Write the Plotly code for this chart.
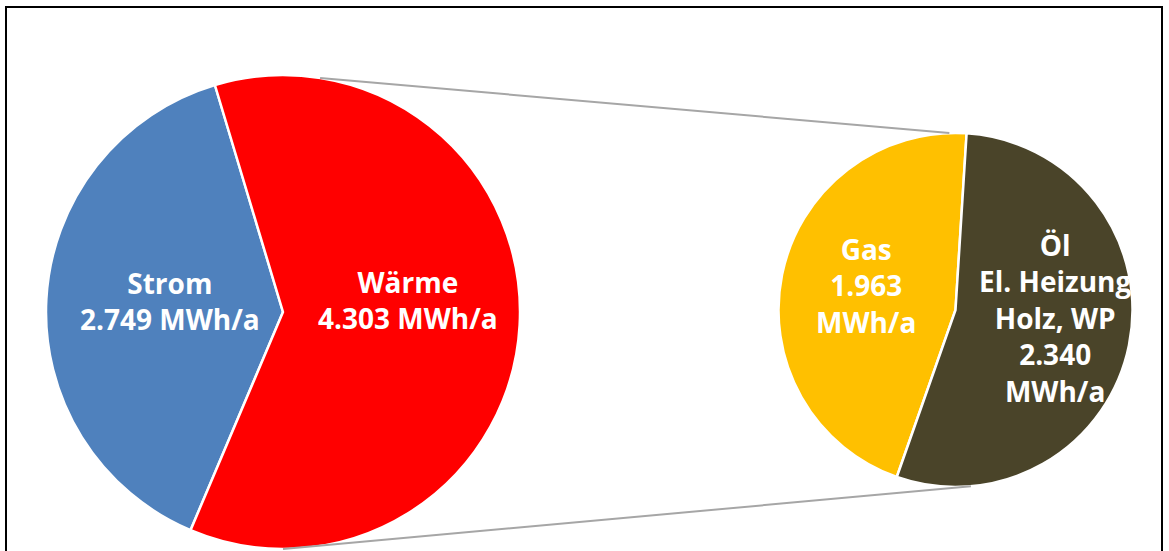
import math
import plotly.graph_objects as go

# Energy demand (MWh/a)
main_labels = ["Strom", "Wärme"]
main_values = [2749, 4303]
main_colors = ["#4F81BD", "#FF0000"]

split_labels = ["Gas", "Öl<br>El. Heizung<br>Holz, WP"]
split_values = [1963, 2340]
split_colors = ["#FFC000", "#4A4429"]

W, H = 1169, 551


def px(x):
    return x / W


def py(y):
    return 1 - y / H


# pie geometry in pixels: centre and radius
L_CX, L_CY, L_R = 283, 312, 237
R_CX, R_CY, R_R = 955.5, 310, 177


def start_angle(values, end_deg):
    # counterclockwise pies: first slice spans [rotation, rotation + share]
    share = 360 * values[0] / sum(values)
    return end_deg - share


fig = go.Figure()

fig.add_trace(go.Pie(
    labels=main_labels, values=main_values, sort=False,
    direction="counterclockwise", rotation=start_angle(main_values, -16.7),
    marker=dict(colors=main_colors, line=dict(color="white", width=2.5)),
    textinfo="none", hoverinfo="label+value", showlegend=False,
    domain=dict(x=[px(L_CX - L_R), px(L_CX + L_R)],
                y=[py(L_CY + L_R), py(L_CY - L_R)]),
))

fig.add_trace(go.Pie(
    labels=split_labels, values=split_values, sort=False,
    direction="counterclockwise", rotation=start_angle(split_values, 3.6),
    marker=dict(colors=split_colors, line=dict(color="white", width=2.5)),
    textinfo="none", hoverinfo="label+value", showlegend=False,
    domain=dict(x=[px(R_CX - R_R), px(R_CX + R_R)],
                y=[py(R_CY + R_R), py(R_CY - R_R)]),
))


def fmt(v):
    # German thousands separator
    return f"{v:,}".replace(",", ".")


def on_circle(cx, cy, r, deg):
    # angle measured clockwise from 12 o'clock
    a = math.radians(deg)
    return cx + r * math.sin(a), cy - r * math.cos(a)


# connector lines between the Wärme slice and the split pie
x0, y0 = on_circle(L_CX, L_CY, L_R, 9)
x1, y1 = on_circle(R_CX, R_CY, R_R, -2)
x2, y2 = on_circle(L_CX, L_CY, L_R, 180)
x3, y3 = on_circle(R_CX, R_CY, R_R, 175)
shapes = [
    dict(type="line", xref="paper", yref="paper",
         x0=px(x0), y0=py(y0), x1=px(x1), y1=py(y1),
         line=dict(color="#A6A6A6", width=2)),
    dict(type="line", xref="paper", yref="paper",
         x0=px(x2), y0=py(y2), x1=px(x3), y1=py(y3),
         line=dict(color="#A6A6A6", width=2)),
    # chart frame
    dict(type="rect", xref="paper", yref="paper",
         x0=px(6), y0=py(556), x1=px(1162), y1=py(7),
         line=dict(color="black", width=2), fillcolor="rgba(0,0,0,0)"),
]

label_font = dict(family="Open Sans", size=28, color="white")
label_pos = [
    (170, 301, f"<b>{main_labels[0]}<br>{fmt(main_values[0])} MWh/a</b>"),
    (408, 300, f"<b>{main_labels[1]}<br>{fmt(main_values[1])} MWh/a</b>"),
    (866, 285, f"<b>{split_labels[0]}<br>{fmt(split_values[0])}<br>MWh/a</b>"),
    (1055, 318, f"<b>{split_labels[1]}<br>{fmt(split_values[1])}<br>MWh/a</b>"),
]
annotations = [
    dict(x=px(x), y=py(y), xref="paper", yref="paper", text=t,
         showarrow=False, xanchor="center", yanchor="middle",
         align="center", font=label_font)
    for x, y, t in label_pos
]

fig.update_layout(
    width=W, height=H,
    margin=dict(l=0, r=0, t=0, b=0),
    paper_bgcolor="white", plot_bgcolor="white",
    shapes=shapes, annotations=annotations,
)

fig.write_html("out.html")
